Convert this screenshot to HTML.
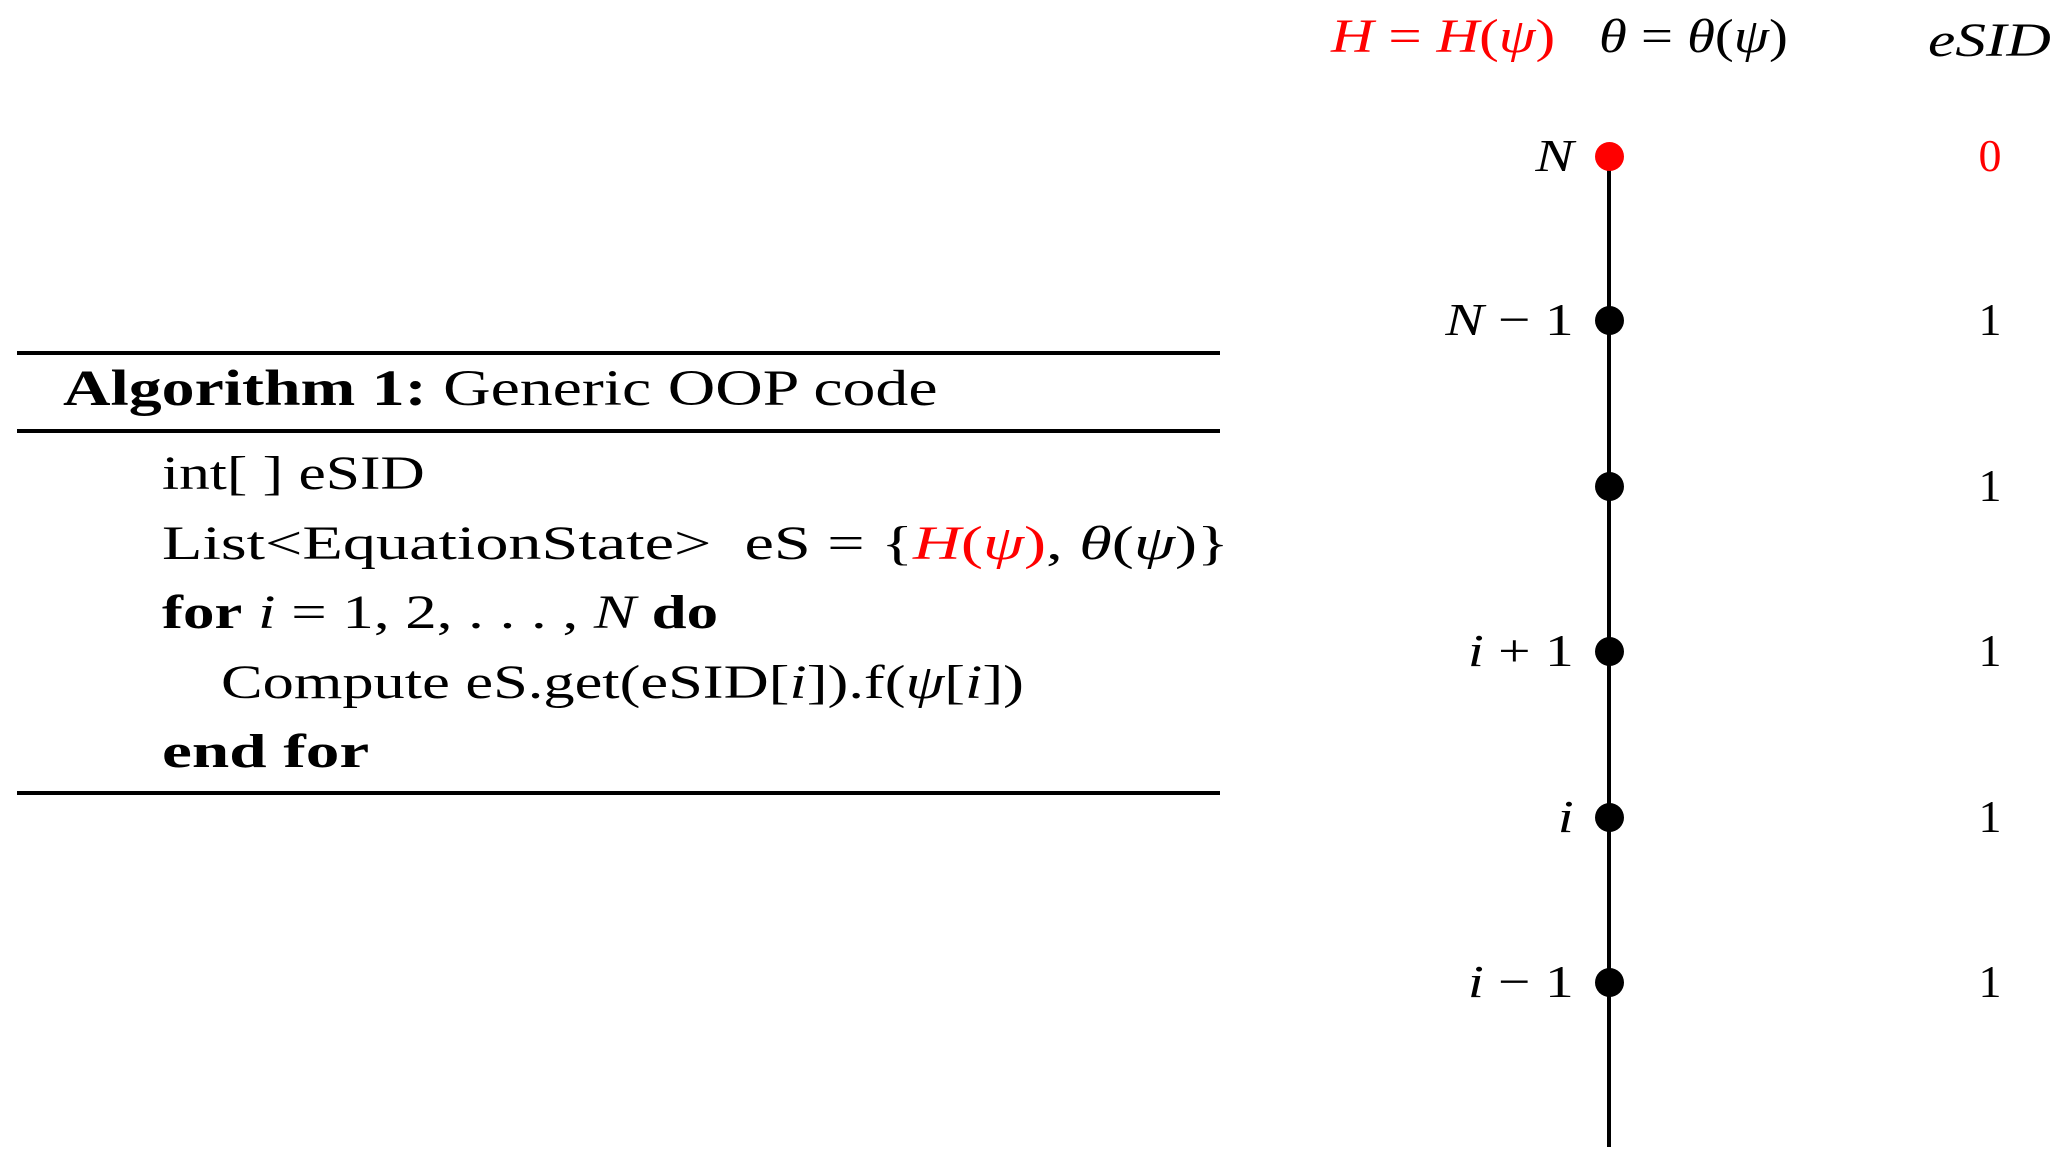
<!DOCTYPE html>
<html><head><meta charset="utf-8"><style>
html,body{margin:0;padding:0;background:#fff;}
body{width:2067px;height:1167px;position:relative;overflow:hidden;font-family:"Liberation Serif",serif;color:#000;}
.t{position:absolute;white-space:nowrap;font-size:48px;line-height:1;transform-origin:0 50%;}
.r{position:absolute;left:17px;width:1203px;height:4px;background:#000;}
i{font-style:italic;}
.red{color:#f00;}
.dot{position:absolute;width:29px;height:29px;border-radius:50%;background:#000;left:1595px;}
.lab{position:absolute;right:493px;white-space:nowrap;font-size:46px;line-height:1;transform:scaleX(1.25);transform-origin:100% 50%;}
.num{position:absolute;left:1970px;width:40px;text-align:center;font-size:46px;line-height:1;}
</style></head><body>
<div class="r" style="top:351px"></div>
<div class="r" style="top:429px"></div>
<div class="r" style="top:791px"></div>
<div class="t" style="left:63px;top:364px;font-size:51px;transform:scaleX(1.29)"><b>Algorithm 1:</b> Generic OOP code</div>
<div class="t" style="left:162px;top:450px;transform:scaleX(1.28)">int[ ] eSID</div>
<div class="t" style="left:162px;top:520px;transform:scaleX(1.38)">List&lt;EquationState&gt; &nbsp;eS = {<span class="red"><i>H</i>(<i>ψ</i>)</span>, <i>θ</i>(<i>ψ</i>)}</div>
<div class="t" style="left:162px;top:589px;transform:scaleX(1.31)"><b>for</b> <i>i</i> = 1, 2, . . . , <i>N</i> <b>do</b></div>
<div class="t" style="left:221px;top:659px;transform:scaleX(1.30)">Compute eS.get(eSID[<i>i</i>]).f(<i>ψ</i>[<i>i</i>])</div>
<div class="t" style="left:162px;top:728px;transform:scaleX(1.40)"><b>end for</b></div>

<div class="t red" style="left:1331px;top:13px;transform:scaleX(1.23)"><i>H</i> = <i>H</i>(<i>ψ</i>)</div>
<div class="t" style="left:1599px;top:13px;transform:scaleX(1.18)"><i>θ</i> = <i>θ</i>(<i>ψ</i>)</div>
<div class="t" style="left:1928px;top:17px;transform:scaleX(1.28)"><i>eSID</i></div>

<div style="position:absolute;left:1607px;top:156px;width:4px;height:991px;background:#000"></div>
<div class="dot" style="top:142px;background:#f00"></div>
<div class="dot" style="top:306px"></div>
<div class="dot" style="top:472px"></div>
<div class="dot" style="top:637px"></div>
<div class="dot" style="top:803px"></div>
<div class="dot" style="top:968px"></div>

<div class="lab" style="top:133px"><i>N</i></div>
<div class="lab" style="top:297px"><i>N</i> − 1</div>
<div class="lab" style="top:628px"><i>i</i> + 1</div>
<div class="lab" style="top:794px"><i>i</i></div>
<div class="lab" style="top:959px"><i>i</i> − 1</div>

<div class="num red" style="top:133px">0</div>
<div class="num" style="top:297px">1</div>
<div class="num" style="top:463px">1</div>
<div class="num" style="top:628px">1</div>
<div class="num" style="top:794px">1</div>
<div class="num" style="top:959px">1</div>
</body></html>
